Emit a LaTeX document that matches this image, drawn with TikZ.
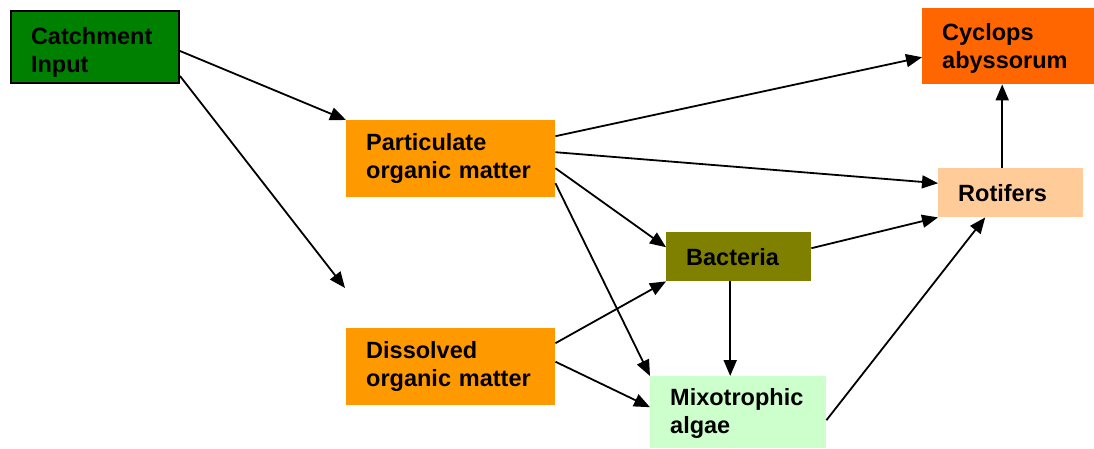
\documentclass[tikz,border=0pt]{standalone}
\usepackage{fontspec}
\setmainfont{Liberation Sans}
\usetikzlibrary{arrows.meta}
\definecolor{catchgreen}{RGB}{0,128,0}
\definecolor{ommorange}{RGB}{255,153,0}
\definecolor{bactolive}{RGB}{128,128,0}
\definecolor{algaegreen}{RGB}{204,255,204}
\definecolor{cyclopsorange}{RGB}{255,102,0}
\definecolor{rotpeach}{RGB}{255,204,153}
\tikzset{
  box/.style={anchor=north west, rectangle, inner xsep=20pt, inner ysep=0pt,
    align=left, font=\bfseries\fontsize{23.5}{28}\selectfont},
  flow/.style={line width=1.8pt, -{Triangle[length=16pt,width=13pt]}}
}
\begin{document}
\begin{tikzpicture}[x=1pt,y=-1pt]
  \useasboundingbox (0,0) rectangle (1094,448);

  % compartments
  \node[box, fill=catchgreen, draw=black, line width=2pt, text width=128pt,
        minimum width=168pt, minimum height=72pt, text height=27pt]
        (catch) at (10,10) {Catchment\\Input};
  \node[box, fill=ommorange, text width=169pt, minimum width=209pt, minimum height=77pt]
        (pom) at (346,120) {Particulate\\organic matter};
  \node[box, fill=ommorange, text width=169pt, minimum width=209pt, minimum height=77pt]
        (dom) at (346,328) {Dissolved\\organic matter};
  \node[box, fill=bactolive, text width=105pt, minimum width=145pt, minimum height=49pt]
        (bact) at (666,232) {Bacteria};
  \node[box, fill=algaegreen, text width=136pt, minimum width=176pt, minimum height=72pt,
        text height=19pt]
        (mixo) at (650,376) {Mixotrophic\\algae};
  \node[box, fill=cyclopsorange, text width=132pt, minimum width=172pt, minimum height=76pt,
        text height=21pt]
        (cyc) at (922,8) {Cyclops\\abyssorum};
  \node[box, fill=rotpeach, text width=105pt, minimum width=145pt, minimum height=49pt]
        (rot) at (938,168) {Rotifers};

  \coordinate (loose) at (345,288);

  % fluxes
  \draw[flow] ([yshift=-4pt]catch.east) -- (pom.north west);
  \draw[flow] ([yshift=-29pt]catch.east) -- (loose);

  \draw[flow] ([yshift=22.5pt]pom.east) -- ([yshift=-11pt]cyc.west);
  \draw[flow] ([yshift=6.5pt]pom.east) -- ([yshift=9.5pt]rot.west);
  \draw[flow] ([yshift=-9.5pt]pom.east) -- ([yshift=9.5pt]bact.west);
  \draw[flow] ([yshift=-24.5pt]pom.east) -- (mixo.north west);

  \draw[flow] ([yshift=23.5pt]dom.east) -- (bact.south west);
  \draw[flow] ([yshift=5pt]dom.east) -- ([yshift=5pt]mixo.west);

  \draw[flow] ([yshift=8.5pt]bact.east) -- (rot.south west);
  \draw[flow] ([xshift=-8.5pt]bact.south) -- ([xshift=-8.5pt]bact.south |- mixo.north);

  \draw[flow] ([yshift=-8pt]mixo.east) -- ([xshift=-25.5pt]rot.south);
  \draw[flow] ([xshift=-8.5pt]rot.north) -- ([xshift=-8.5pt]rot.north |- cyc.south);
\end{tikzpicture}
\end{document}
